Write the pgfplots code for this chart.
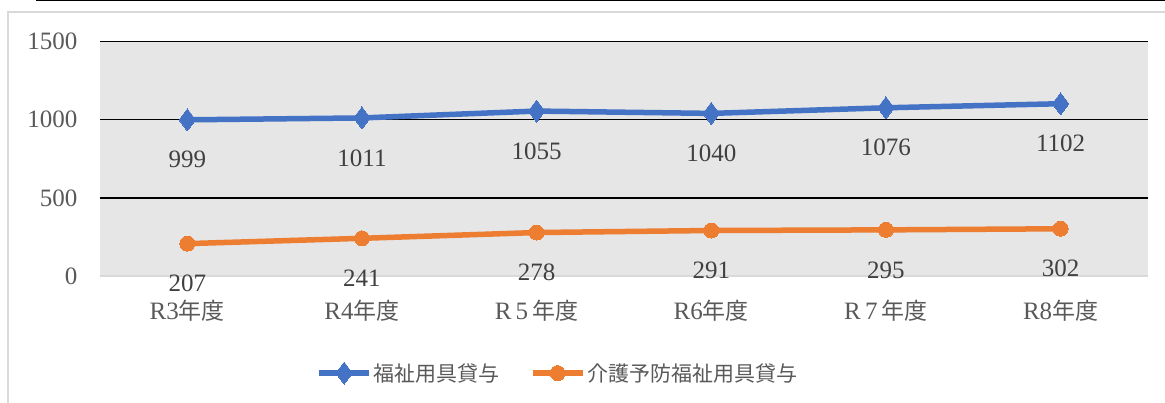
\documentclass[border=0pt]{standalone}
\usepackage{fontspec}
\setmainfont{Liberation Serif}
\newfontfamily\cjk{Noto Sans CJK JP}
\usepackage{pgfplots}
\pgfplotsset{compat=1.18}
\definecolor{cblue}{HTML}{4472C4}
\definecolor{corange}{HTML}{ED7D31}
\definecolor{plotbg}{HTML}{E6E6E6}
\definecolor{ticktext}{HTML}{595959}
\definecolor{labeltext}{HTML}{404040}
\definecolor{framegray}{HTML}{D9D9D9}
\begin{document}
\begin{tikzpicture}[x=1pt,y=1pt]
\path[use as bounding box] (0,0) rectangle (1165,403);
\draw[line width=3pt] (36,403) -- (1165,403);
\draw[framegray, line width=1.5pt] (8,0) -- (8,391) -- (1170,391);
\begin{axis}[
  at={(100pt,127pt)}, anchor=south west,
  scale only axis, width=1048pt, height=234.5pt,
  xmin=-0.5, xmax=5.5, ymin=0, ymax=1500,
  axis line style={draw=none},
  axis background/.style={fill=plotbg},
  xtick={0,1,2,3,4,5},
  xticklabels={{R3{\cjk\fontsize{23}{26}\selectfont 年度}},{R4{\cjk\fontsize{23}{26}\selectfont 年度}},{R\,5\,{\cjk\fontsize{23}{26}\selectfont 年度}},{R6{\cjk\fontsize{23}{26}\selectfont 年度}},{R\,7\,{\cjk\fontsize{23}{26}\selectfont 年度}},{R8{\cjk\fontsize{23}{26}\selectfont 年度}}},
  ytick={500,1000,1500},
  extra y ticks={0},
  extra y tick style={major grid style={framegray, line width=1.5pt}},
  ymajorgrids, major grid style={black, line width=1.5pt},
  major tick length=0pt,
  tick label style={font=\fontsize{25}{28}\selectfont, text=ticktext},
  /pgf/number format/assume math mode=true,
  /pgf/number format/1000 sep={},
  xticklabel style={yshift=-21pt},
  yticklabel style={xshift=-19pt},
  nodes near coords,
  every node near coord/.append style={anchor=center, yshift=-40pt, font=\fontsize{25}{28}\selectfont, text=labeltext},
  legend columns=2,
  legend style={at={(0.437,-0.414)}, anchor=center, draw=none, fill=none,
    font=\cjk\fontsize{21}{24}\selectfont, text=ticktext,
    /tikz/every even column/.append style={column sep=28pt}},
  legend image code/.code={\draw[mark repeat=2,mark phase=2,#1] plot coordinates {(0pt,0pt) (25pt,0pt) (50pt,0pt)};},
  clip=false,
]
\addplot[cblue, line width=5.5pt, mark=diamond*, mark size=11pt, mark options={solid, fill=cblue, draw=cblue, line width=0pt}]
  coordinates {(0,999) (1,1011) (2,1055) (3,1040) (4,1076) (5,1102)};
\addlegendentry{福祉用具貸与}
\addplot[corange, line width=5.5pt, mark=*, mark size=7.5pt, mark options={solid, fill=corange, draw=corange, line width=0pt}]
  coordinates {(0,207) (1,241) (2,278) (3,291) (4,295) (5,302)};
\addlegendentry{介護予防福祉用具貸与}
\end{axis}
\end{tikzpicture}
\end{document}
